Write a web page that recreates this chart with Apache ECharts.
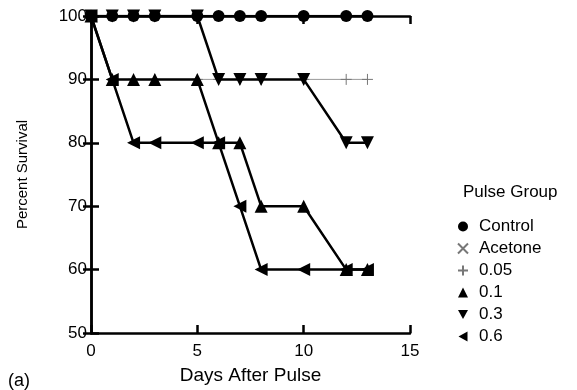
<!DOCTYPE html>
<html>
<head>
<meta charset="utf-8">
<script src="https://cdn.jsdelivr.net/npm/echarts@6/dist/echarts.min.js"></script>
<style>
  html, body { margin: 0; padding: 0; background: #fff; }
  #chart { width: 577px; height: 390px; }
</style>
</head>
<body>
<div id="chart"></div>
<script>
// days after pulse
var days = [0, 1, 2, 3, 5, 6, 7, 8, 10, 12, 13];

// percent survival per pulse group
var control = [100, 100, 100, 100, 100, 100, 100, 100, 100, 100, 100];
var acetone = [100, 100, 100, 100, 100, 100, 100, 100, 100, 100, 100];
var p005 = [100, 90, 90, 90, 90, 90, 90, 90, 90, 90, 90];
var p01 = [100, 90, 90, 90, 90, 80, 80, 70, 70, 60, 60];
var p03 = [100, 100, 100, 100, 100, 90, 90, 90, 90, 80, 80];
var p06 = [100, 90, 80, 80, 80, 80, 70, 60, 60, 60, 60];

var xTicks = [0, 5, 10, 15];
var yTicks = [50, 60, 70, 80, 90, 100];

var chartDom = document.getElementById('chart');
var myChart = echarts.init(chartDom);

function pairs(vals) {
    return days.map(function (d, i) { return [d, vals[i]]; });
}

var crossPath = 'path://M0,0L10,10M10,0L0,10';
var plusPath = 'path://M5,0L5,10M0,5L10,5';
var downPath = 'path://M0,0L10,0L5,9Z';
var leftPath = 'path://M9,0L9,10L0,5Z';
var font = 'Liberation Sans, Arial, sans-serif';

// line with filled black marker
function blackSeries(name, vals, symbol, rotate, size, z) {
    return {
        name: name,
        type: 'line',
        data: pairs(vals),
        symbol: symbol,
        symbolRotate: rotate,
        symbolSize: size,
        showSymbol: true,
        lineStyle: { color: '#000', width: 2.5 },
        itemStyle: { color: '#000', borderWidth: 0 },
        z: z,
        animation: false
    };
}

// thin grey line with stroked marker
function greySeries(name, vals, symbol, size, z) {
    return {
        name: name,
        type: 'line',
        data: pairs(vals),
        symbol: symbol,
        symbolSize: size,
        lineStyle: { color: '#9a9a9a', width: 1 },
        itemStyle: { color: 'transparent', borderColor: '#777', borderWidth: 1 },
        z: z,
        animation: false
    };
}

var axisLine = { show: true, lineStyle: { color: '#000', width: 2.5 } };
var tick = { show: true, inside: true, length: 8, lineStyle: { color: '#000', width: 2.5 } };

var option = {
    backgroundColor: '#fff',
    grid: { left: 91, right: 167, top: 16, bottom: 55 },
    title: [
        {
            text: 'Pulse Group', left: 458, top: 179,
            textStyle: { fontFamily: font, fontSize: 17, fontWeight: 'normal', color: '#000' }
        },
        {
            text: '(a)', left: 3, top: 367,
            textStyle: { fontFamily: font, fontSize: 18, fontWeight: 'normal', color: '#000' }
        }
    ],
    legend: {
        orient: 'vertical',
        left: 452,
        top: 213,
        itemWidth: 10,
        itemHeight: 10,
        itemGap: 5,
        textStyle: { fontFamily: font, fontSize: 17, color: '#000', padding: [0, 0, 0, 6] },
        data: [
            { name: 'Control', icon: 'circle' },
            { name: 'Acetone', icon: crossPath },
            { name: '0.05', icon: plusPath },
            { name: '0.1', icon: 'triangle' },
            { name: '0.3', icon: downPath },
            { name: '0.6', icon: leftPath }
        ]
    },
    xAxis: [
        {
            type: 'value', min: xTicks[0], max: xTicks[xTicks.length - 1], interval: 5,
            name: 'Days After Pulse', nameLocation: 'middle', nameGap: 33,
            nameTextStyle: { fontFamily: font, fontSize: 19, color: '#000' },
            axisLine: axisLine, axisTick: tick, splitLine: { show: false },
            axisLabel: { fontFamily: font, fontSize: 17, color: '#000', margin: 10 }
        },
        {
            type: 'value', position: 'top', min: xTicks[0], max: xTicks[xTicks.length - 1], interval: 5,
            axisLine: axisLine, axisTick: tick, splitLine: { show: false },
            axisLabel: { show: false }
        }
    ],
    yAxis: [
        {
            type: 'value', min: yTicks[0], max: yTicks[yTicks.length - 1], interval: 10,
            name: 'Percent Survival', nameLocation: 'middle', nameGap: 61,
            nameTextStyle: { fontFamily: font, fontSize: 15, color: '#000' },
            axisLine: axisLine, axisTick: tick, splitLine: { show: false },
            axisLabel: { fontFamily: font, fontSize: 17, color: '#000', margin: 4 }
        },
        {
            type: 'value', position: 'right', min: yTicks[0], max: yTicks[yTicks.length - 1], interval: 10,
            axisLine: axisLine, axisTick: tick, splitLine: { show: false },
            axisLabel: { show: false }
        }
    ],
    series: [
        greySeries('Acetone', acetone, crossPath, 8, 2),
        greySeries('0.05', p005, plusPath, 11, 2),
        blackSeries('0.1', p01, 'triangle', 0, 13, 3),
        blackSeries('0.3', p03, 'triangle', 180, 13, 3),
        blackSeries('0.6', p06, 'triangle', 90, 13, 3),
        blackSeries('Control', control, 'circle', 0, 12, 4)
    ]
};

myChart.setOption(option);
</script>
</body>
</html>
